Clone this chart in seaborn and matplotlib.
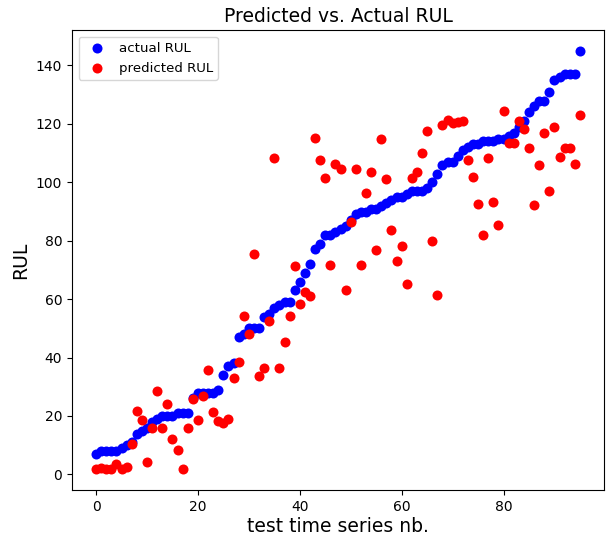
import matplotlib
matplotlib.use("Agg")
import matplotlib.pyplot as plt
import seaborn as sns
import numpy as np
import pandas as pd

test_index = list(range(96))

actual_rul = [7, 8, 8, 8, 8, 9, 10, 11, 14, 15, 16, 18, 19, 20, 20, 20, 21, 21, 21, 26,
              28, 28, 28, 28, 29, 34, 37, 38, 47, 48, 50, 50, 50, 54, 55, 57, 58, 59, 59, 63,
              66, 69, 72, 77, 79, 82, 82, 83, 84, 85, 87, 89, 90, 90, 91, 91, 92, 93, 94, 95,
              95, 96, 97, 97, 97, 98, 100, 103, 106, 107, 107, 109, 111, 112, 113, 113, 114, 114, 114, 115,
              115, 116, 117, 119, 121, 124, 126, 128, 128, 131, 135, 136, 137, 137, 137, 145]

predicted_rul = [1.8, 2.3, 1.8, 1.8, 3.5, 1.8, 2.5, 10.4, 21.7, 18.7, 4.1, 15.8, 28.6, 15.8, 24.2, 12.0,
                 8.4, 1.8, 15.8, 25.8, 18.5, 26.9, 35.9, 21.3, 18.3, 17.7, 18.9, 33.1, 38.5, 54.2, 47.9, 75.5,
                 33.7, 36.5, 52.5, 108.2, 36.5, 45.5, 54.2, 71.3, 58.3, 62.3, 61.0, 115.3, 107.5, 101.5, 71.8, 106.3,
                 104.7, 63.0, 86.4, 104.7, 71.8, 96.5, 103.7, 76.8, 114.7, 101.0, 83.7, 72.9, 78.3, 65.1, 101.5, 103.5,
                 110.2, 117.5, 79.9, 61.4, 119.6, 121.5, 120.2, 120.6, 121.0, 107.5, 101.7, 92.5, 82.0, 108.4, 93.4, 85.3,
                 124.4, 113.3, 113.3, 121.0, 118.1, 111.9, 92.2, 105.8, 116.8, 97.1, 118.9, 108.6, 111.6, 111.9, 106.4, 122.9]

df = pd.DataFrame({"idx": test_index, "actual": actual_rul, "pred": predicted_rul})

plt.rcParams['font.family'] = ['DejaVu Sans']
fig = plt.figure(figsize=(6.09, 5.35), dpi=100)
ax = fig.add_axes([0.118, 0.084, 0.874, 0.860])

sns.scatterplot(data=df, x="idx", y="actual", color="blue", s=52, linewidth=0,
                label="actual RUL", ax=ax)
sns.scatterplot(data=df, x="idx", y="pred", color="red", s=52, linewidth=0,
                label="predicted RUL", ax=ax)

ax.set_xticks([0, 20, 40, 60, 80])
ax.set_yticks([0, 20, 40, 60, 80, 100, 120, 140])
ax.margins(0.05)
ax.set_title("Predicted vs. Actual RUL", fontsize=13.5)
ax.set_xlabel("test time series nb.", fontsize=13.5, labelpad=2)
ax.set_ylabel("RUL", fontsize=13.5)
ax.tick_params(labelsize=10)
ax.legend(loc="upper left", fontsize=9.6, handletextpad=0.6)

fig.savefig("out.png", dpi=100)
